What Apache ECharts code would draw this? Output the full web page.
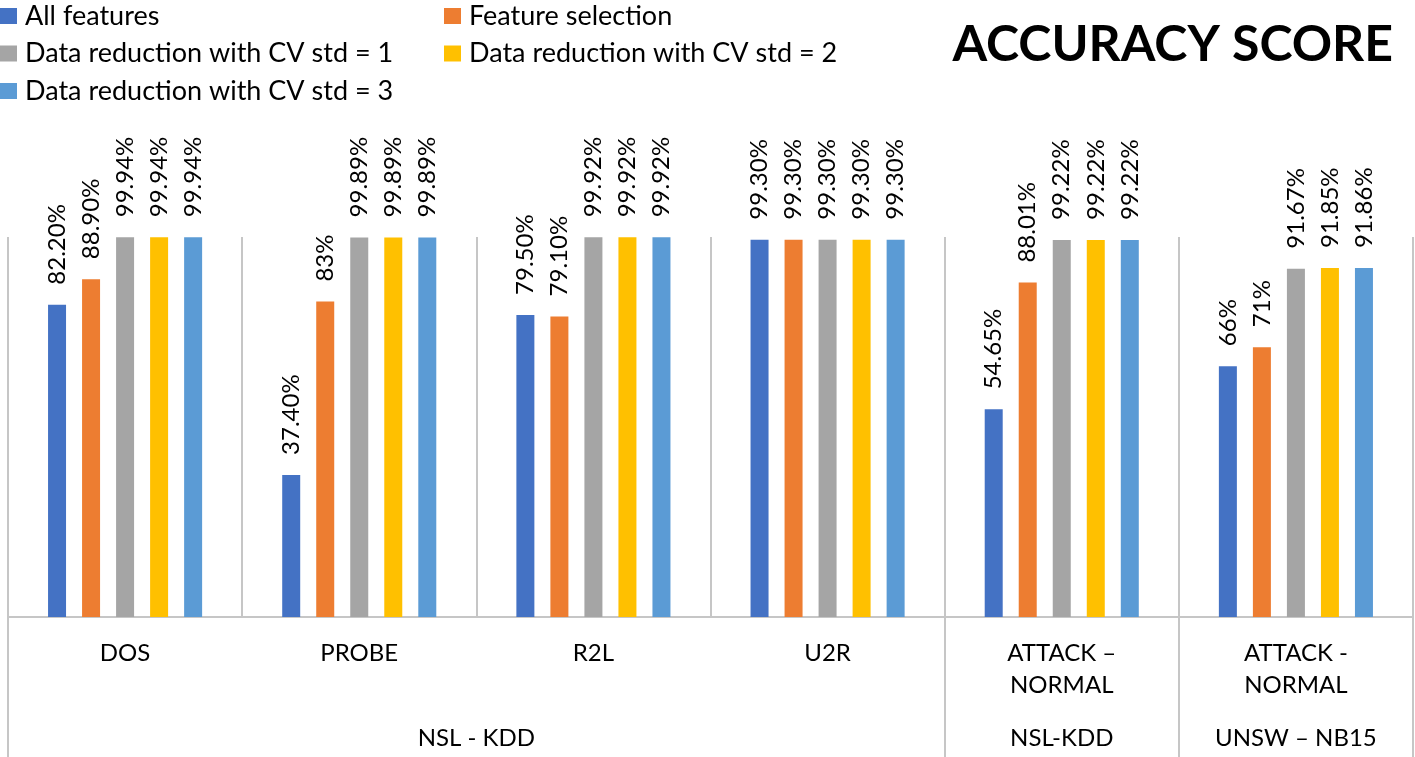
<!DOCTYPE html>
<html>
<head>
<meta charset="utf-8">
<script src="https://cdn.jsdelivr.net/npm/echarts@6/dist/echarts.min.js"></script>
<style>
  html, body { margin: 0; padding: 0; background: #fff; }
  #chart { width: 1415px; height: 757px; }
</style>
</head>
<body>
<div id="chart"></div>
<script>
// ---- data ----
const categories = ['DOS', 'PROBE', 'R2L', 'U2R', 'ATTACK –\nNORMAL', 'ATTACK -\nNORMAL'];
const groupNames = ['NSL - KDD', 'NSL-KDD', 'UNSW – NB15'];
const groupSizes = [4, 1, 1];
const seriesNames = [
  'All features',
  'Feature selection',
  'Data reduction with CV std = 1',
  'Data reduction with CV std = 2',
  'Data reduction with CV std = 3'
];
const allFeatures   = [82.20, 37.40, 79.50, 99.30, 54.65, 66];
const featureSel    = [88.90, 83, 79.10, 99.30, 88.01, 71];
const reductionStd1 = [99.94, 99.89, 99.92, 99.30, 99.22, 91.67];
const reductionStd2 = [99.94, 99.89, 99.92, 99.30, 99.22, 91.85];
const reductionStd3 = [99.94, 99.89, 99.92, 99.30, 99.22, 91.86];
const allFeaturesLabels   = ['82.20%', '37.40%', '79.50%', '99.30%', '54.65%', '66%'];
const featureSelLabels    = ['88.90%', '83%', '79.10%', '99.30%', '88.01%', '71%'];
const reductionStd1Labels = ['99.94%', '99.89%', '99.92%', '99.30%', '99.22%', '91.67%'];
const reductionStd2Labels = ['99.94%', '99.89%', '99.92%', '99.30%', '99.22%', '91.85%'];
const reductionStd3Labels = ['99.94%', '99.89%', '99.92%', '99.30%', '99.22%', '91.86%'];
const colors = ['#4472C4', '#ED7D31', '#A5A5A5', '#FFC000', '#5B9BD5'];

// ---- derived ----
const seriesValues = [allFeatures, featureSel, reductionStd1, reductionStd2, reductionStd3];
const seriesLabels = [allFeaturesLabels, featureSelLabels, reductionStd1Labels, reductionStd2Labels, reductionStd3Labels];
const groupBounds = [0];
groupSizes.forEach(s => groupBounds.push(groupBounds[groupBounds.length - 1] + s));
const groupCenters = groupSizes.map((s, i) => groupBounds[i] + s / 2);

const FONT = 'Lato';
const GRID_COLOR = '#C6C6C6';

const chart = echarts.init(document.getElementById('chart'), null, { renderer: 'canvas' });

const legendBase = {
  orient: 'vertical',
  top: 1,
  padding: 0,
  icon: 'rect',
  itemWidth: 17,
  itemHeight: 16,
  itemGap: 7.5,
  textStyle: { fontFamily: FONT, fontSize: 27, lineHeight: 30, color: '#000', padding: [0, 0, 0, 3] }
};

const option = {
  animation: false,
  backgroundColor: '#ffffff',
  textStyle: { fontFamily: FONT },
  title: {
    text: 'ACCURACY SCORE',
    right: 17,
    top: 15,
    textStyle: { fontFamily: FONT, fontWeight: 'bold', fontSize: 50, color: '#000' }
  },
  legend: [
    Object.assign({}, legendBase, { left: 0, data: [seriesNames[0], seriesNames[2], seriesNames[4]] }),
    Object.assign({}, legendBase, { left: 444, data: [seriesNames[1], seriesNames[3]] })
  ],
  grid: { left: 8, right: 2, top: 237, height: 380, containLabel: false },
  xAxis: [
    {
      type: 'category',
      data: categories,
      position: 'bottom',
      axisLine: { show: true, lineStyle: { color: GRID_COLOR, width: 2 } },
      axisTick: { show: false },
      splitLine: { show: true, interval: 0, lineStyle: { color: GRID_COLOR, width: 2 } },
      axisLabel: {
        interval: 0,
        margin: 20,
        fontFamily: FONT,
        fontSize: 24,
        lineHeight: 32,
        color: '#000',
        verticalAlign: 'top'
      }
    },
    {
      type: 'value',
      min: 0,
      max: categories.length,
      position: 'bottom',
      axisLine: { show: false },
      splitLine: { show: false },
      axisTick: {
        show: true,
        inside: false,
        length: 140,
        customValues: groupBounds,
        lineStyle: { color: GRID_COLOR, width: 2 }
      },
      axisLabel: {
        show: true,
        margin: 105,
        customValues: groupCenters,
        fontFamily: FONT,
        fontSize: 24,
        lineHeight: 32,
        color: '#000',
        verticalAlign: 'top',
        formatter: function (v) {
          const i = groupCenters.findIndex(c => Math.abs(c - v) < 1e-6);
          return i >= 0 ? groupNames[i] : '';
        }
      }
    }
  ],
  yAxis: {
    type: 'value',
    min: 0,
    max: 100,
    show: false,
    splitLine: { show: false }
  },
  series: seriesNames.map((name, si) => ({
    name: name,
    type: 'bar',
    xAxisIndex: 0,
    barWidth: 18,
    barGap: '89%',
    itemStyle: { color: colors[si] },
    data: seriesValues[si],
    label: {
      show: true,
      position: 'top',
      distance: 20,
      rotate: 90,
      align: 'left',
      verticalAlign: 'middle',
      fontFamily: FONT,
      fontSize: 24,
      color: '#000',
      formatter: p => seriesLabels[si][p.dataIndex]
    }
  }))
};

chart.setOption(option);
</script>
</body>
</html>
